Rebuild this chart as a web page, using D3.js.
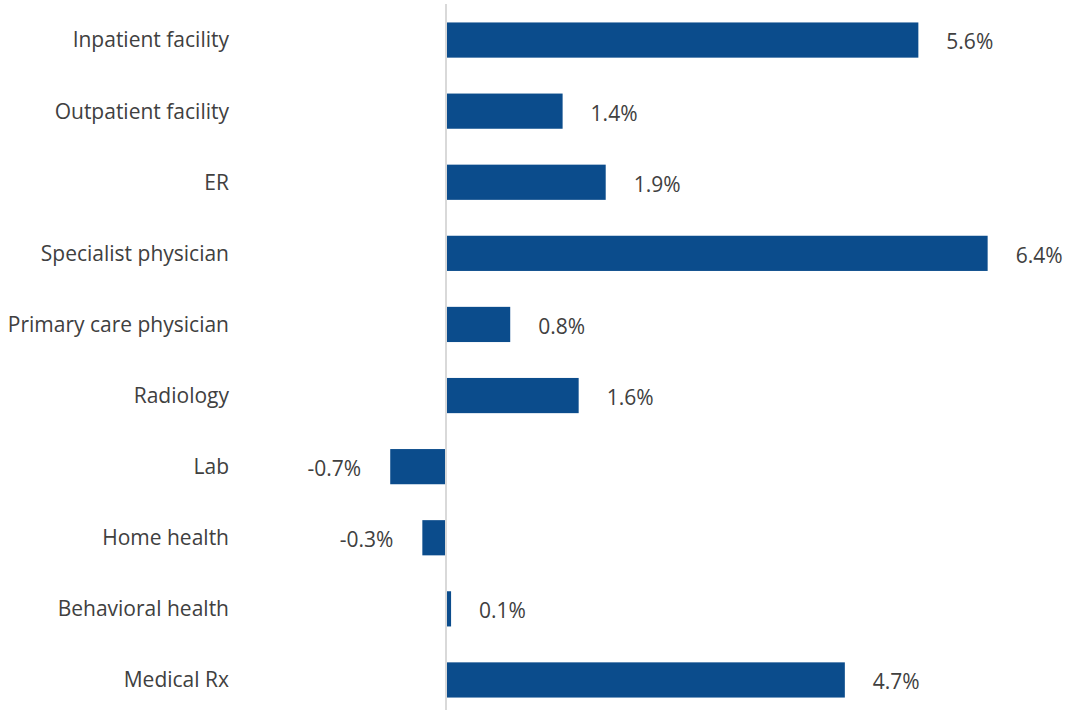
<!DOCTYPE html>
<html>
<head>
<meta charset="utf-8">
<script src="https://cdn.jsdelivr.net/npm/d3@7"></script>
<style>
  body { margin: 0; background: #fff; }
  text { font-family: 'Open Sans', 'Noto Sans', sans-serif; fill: #404040; }
</style>
</head>
<body>
<div id="chart"></div>
<script>
const categories = [
  'Inpatient facility',
  'Outpatient facility',
  'ER',
  'Specialist physician',
  'Primary care physician',
  'Radiology',
  'Lab',
  'Home health',
  'Behavioral health',
  'Medical Rx'
]
const values = [5.59, 1.38, 1.89, 6.41, 0.76, 1.57, -0.66, -0.28, 0.06, 4.72]
const valueLabels = ['5.6%', '1.4%', '1.9%', '6.4%', '0.8%', '1.6%', '-0.7%', '-0.3%', '0.1%', '4.7%']

const width = 1066
const height = 710

const svg = d3
  .select('#chart')
  .append('svg')
  .attr('width', width)
  .attr('height', height)

const xPositionScale = d3.scaleLinear().domain([0, 1]).range([446, 530.5])
const yPositionScale = d3
  .scaleBand()
  .domain(categories)
  .range([4.5, 715.5])
  .paddingInner(0.505)
  .paddingOuter(0.2525)

const rows = categories.map((c, i) => ({ category: c, value: values[i], label: valueLabels[i] }))

// bars
svg
  .selectAll('rect.bar')
  .data(rows)
  .enter()
  .append('rect')
  .attr('class', 'bar')
  .attr('x', d => Math.min(xPositionScale(0), xPositionScale(d.value)))
  .attr('width', d => Math.abs(xPositionScale(d.value) - xPositionScale(0)))
  .attr('y', d => yPositionScale(d.category))
  .attr('height', yPositionScale.bandwidth())
  .attr('fill', '#0b4c8c')

// zero line
svg
  .append('line')
  .attr('x1', xPositionScale(0))
  .attr('x2', xPositionScale(0))
  .attr('y1', 4)
  .attr('y2', height)
  .attr('stroke', '#d9d9d9')
  .attr('stroke-width', 2)

// category labels
svg
  .selectAll('text.cat')
  .data(rows)
  .enter()
  .append('text')
  .attr('class', 'cat')
  .attr('x', 229)
  .attr('y', d => yPositionScale(d.category) + yPositionScale.bandwidth() / 2)
  .attr('dy', '0.35em')
  .attr('text-anchor', 'end')
  .attr('font-size', 21)
  .text(d => d.category)

// value labels
svg
  .selectAll('text.val')
  .data(rows)
  .enter()
  .append('text')
  .attr('class', 'val')
  .attr('x', d => d.value >= 0 ? xPositionScale(d.value) + 28 : xPositionScale(d.value) - 29)
  .attr('y', d => yPositionScale(d.category) + yPositionScale.bandwidth() / 2 + 2)
  .attr('dy', '0.35em')
  .attr('text-anchor', d => d.value >= 0 ? 'start' : 'end')
  .attr('font-size', 21)
  .text(d => d.label)
</script>
</body>
</html>
